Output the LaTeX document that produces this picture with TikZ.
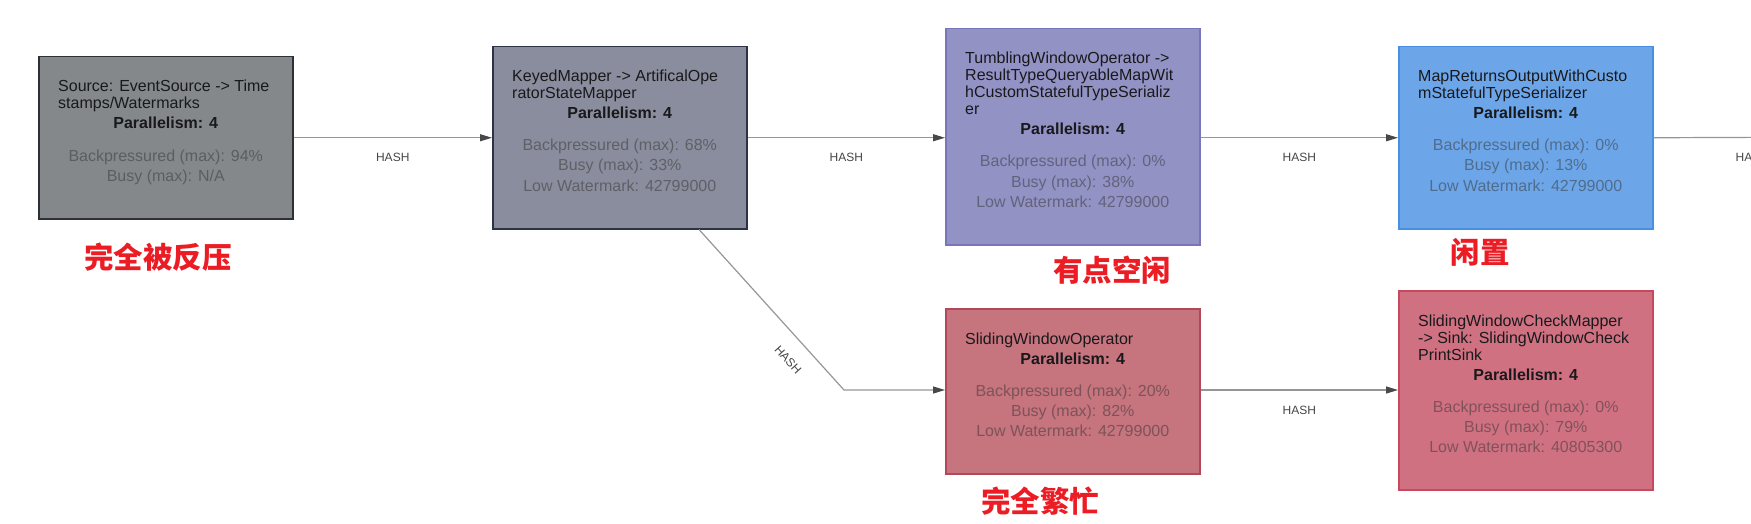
\documentclass[tikz,border=0pt]{standalone}
\usepackage{fontspec}
\setmainfont{Liberation Sans}
\newfontfamily\cjkfont{Noto Sans CJK SC}
\usetikzlibrary{arrows.meta,calc}
\definecolor{srcfill}{RGB}{132,136,139}
\definecolor{srcdraw}{RGB}{45,48,52}
\definecolor{keyfill}{RGB}{138,141,157}
\definecolor{keydraw}{RGB}{45,50,68}
\definecolor{tumfill}{RGB}{147,146,197}
\definecolor{tumdraw}{RGB}{120,118,184}
\definecolor{mapfill}{RGB}{108,166,233}
\definecolor{mapdraw}{RGB}{72,143,226}
\definecolor{slfill}{RGB}{198,116,126}
\definecolor{sldraw}{RGB}{178,72,90}
\definecolor{ckfill}{RGB}{208,113,130}
\definecolor{ckdraw}{RGB}{200,72,96}
\definecolor{titlecol}{RGB}{25,25,28}
\definecolor{statcol}{RGB}{51,51,51}
\definecolor{linecol}{RGB}{150,150,150}
\definecolor{tipcol}{RGB}{72,72,72}
\definecolor{lblcol}{RGB}{70,70,70}
\definecolor{notered}{RGB}{235,28,36}
\newcommand\titleln[4]{\node[ttl] (#1) at ($(#2.north west)+(20,#3)$) {#4};}
\newcommand\parln[3]{\node[parl] (#1) at ($(#2.north)+(0,#3)$) {Parallelism: 4};}
\newcommand\statln[4]{\node[statl] (#1) at ($(#2.north)+(0,#3)$) {#4};}
\begin{document}
\begin{tikzpicture}[x=1pt,y=-1pt,
  opbox/.style={draw, line width=1.5pt, anchor=north west, minimum width=254pt, inner sep=0pt},
  ttl/.style={anchor=base west, inner sep=0pt, font=\fontsize{16}{17}\selectfont, text=titlecol},
  parl/.style={anchor=base, inner sep=0pt, font=\fontsize{16}{17}\selectfont\bfseries, text=titlecol},
  statl/.style={anchor=base, inner sep=0pt, font=\fontsize{16}{17}\selectfont, text=statcol, text opacity=0.5},
  flow/.style={draw=linecol, line width=1.2pt, -{Triangle[length=12pt,width=7pt,color=tipcol]}},
  elbl/.style={inner sep=0pt, font=\fontsize{12}{13}\selectfont, text=lblcol},
  cnote/.style={inner sep=0pt, font=\cjkfont\bfseries\fontsize{29.5}{30}\selectfont, text=notered}]
\useasboundingbox (0,0) rectangle (1751,524);
\clip (0,0) rectangle (1751,524);
% boxes
\node[opbox, fill=srcfill, draw=srcdraw, minimum height=162pt] (b1) at (38,56) {};
\node[opbox, fill=keyfill, draw=keydraw, minimum height=182pt] (b2) at (492,46) {};
\node[opbox, fill=tumfill, draw=tumdraw, minimum height=216pt] (b3) at (945,28) {};
\node[opbox, fill=mapfill, draw=mapdraw, minimum height=182pt] (b4) at (1398,46) {};
\node[opbox, fill=slfill, draw=sldraw, minimum height=165pt] (b5) at (945,308) {};
\node[opbox, fill=ckfill, draw=ckdraw, minimum height=199pt] (b6) at (1398,290) {};
% source
\titleln{t1a}{b1}{36}{Source: EventSource -> Time}
\titleln{t1b}{b1}{53}{stamps/Watermarks}
\parln{p1}{b1}{73}
\statln{s1a}{b1}{105}{Backpressured (max): 94\%}
\statln{s1b}{b1}{125}{Busy (max): N/A}
% keyed
\titleln{t2a}{b2}{36}{KeyedMapper -> ArtificalOpe}
\titleln{t2b}{b2}{53}{ratorStateMapper}
\parln{p2}{b2}{73}
\statln{s2a}{b2}{105}{Backpressured (max): 68\%}
\statln{s2b}{b2}{125}{Busy (max): 33\%}
\statln{s2c}{b2}{145}{Low Watermark: 42799000}
% tumbling
\titleln{t3a}{b3}{36}{TumblingWindowOperator ->}
\titleln{t3b}{b3}{53}{ResultTypeQueryableMapWit}
\titleln{t3c}{b3}{70}{hCustomStatefulTypeSerializ}
\titleln{t3d}{b3}{87}{er}
\parln{p3}{b3}{107}
\statln{s3a}{b3}{139}{Backpressured (max): 0\%}
\statln{s3b}{b3}{159}{Busy (max): 38\%}
\statln{s3c}{b3}{179}{Low Watermark: 42799000}
% map returns
\titleln{t4a}{b4}{36}{MapReturnsOutputWithCusto}
\titleln{t4b}{b4}{53}{mStatefulTypeSerializer}
\parln{p4}{b4}{73}
\statln{s4a}{b4}{105}{Backpressured (max): 0\%}
\statln{s4b}{b4}{125}{Busy (max): 13\%}
\statln{s4c}{b4}{145}{Low Watermark: 42799000}
% sliding
\titleln{t5a}{b5}{36}{SlidingWindowOperator}
\parln{p5}{b5}{56}
\statln{s5a}{b5}{88}{Backpressured (max): 20\%}
\statln{s5b}{b5}{108}{Busy (max): 82\%}
\statln{s5c}{b5}{128}{Low Watermark: 42799000}
% check
\titleln{t6a}{b6}{36}{SlidingWindowCheckMapper}
\titleln{t6b}{b6}{53}{-> Sink: SlidingWindowCheck}
\titleln{t6c}{b6}{70}{PrintSink}
\parln{p6}{b6}{90}
\statln{s6a}{b6}{122}{Backpressured (max): 0\%}
\statln{s6b}{b6}{142}{Busy (max): 79\%}
\statln{s6c}{b6}{162}{Low Watermark: 40805300}
% connectors
\coordinate (exitpt) at (1851,137);
\coordinate (dstart) at ($(b2.south west)+(207,0)$);
\coordinate (bend) at (844,390);
\draw[flow] (b1.east) -- node[elbl, yshift=-20pt] (h1) {HASH} (b1.east -| b2.west);
\draw[flow] (b2.east) -- node[elbl, yshift=-20pt] (h2) {HASH} (b2.east -| b3.west);
\draw[flow] (b3.east |- b2.east) -- node[elbl, yshift=-20pt] (h3) {HASH} (b2.east -| b4.west);
\draw[flow] (b4.east) -- node[elbl, yshift=-20pt] (h4) {HASH} (exitpt);
\draw[flow] (b5.east |- bend) -- node[elbl, yshift=-20pt] (h5) {HASH} (bend -| b6.west);
\draw[flow] (dstart) -- (bend) -- (bend -| b5.west);
\node[elbl, rotate=-48] (h6) at (788,360) {HASH};
% notes
\node[cnote] (n1) at (158,257) {完全被反压};
\node[cnote] (n2) at (1112,270) {有点空闲};
\node[cnote] (n3) at (1480,252) {闲置};
\node[cnote] (n4) at (1040,501) {完全繁忙};
\end{tikzpicture}
\end{document}
